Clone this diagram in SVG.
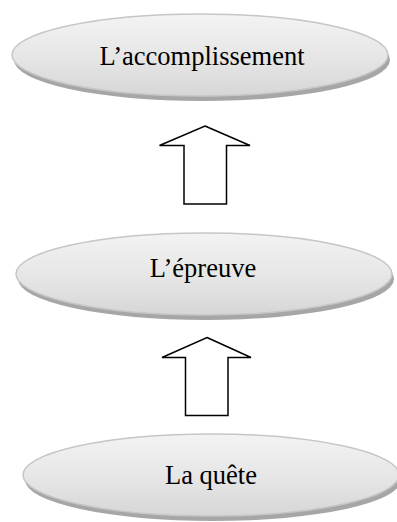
<svg xmlns="http://www.w3.org/2000/svg" width="397" height="522" viewBox="0 0 397 522">
  <defs>
    <linearGradient id="fillGrad" x1="0" y1="0" x2="0" y2="1">
      <stop offset="0" stop-color="#f3f3f3"/>
      <stop offset="0.6" stop-color="#e4e4e4"/>
      <stop offset="1" stop-color="#d6d6d6"/>
    </linearGradient>
    <filter id="blur" x="-10%" y="-20%" width="120%" height="140%">
      <feGaussianBlur stdDeviation="0.7"/>
    </filter>
  </defs>
  <style>
    .shadow { fill: #a6a6a6; filter: url(#blur); }
    .oval { fill: url(#fillGrad); stroke: #c6c6c6; stroke-width: 1.5; }
    .label { font-family: "Liberation Serif", "Times New Roman", serif; font-size: 26.5px; fill: #000; text-anchor: middle; }
    .arrow { fill: #fff; stroke: #000; stroke-width: 1.5; stroke-linejoin: miter; }
  </style>

  <g id="node-accomplissement">
    <ellipse class="shadow" cx="202" cy="60" rx="188" ry="41"/>
    <ellipse class="oval" cx="200" cy="55" rx="188" ry="41"/>
    <text class="label" x="202" y="65">L’accomplissement</text>
  </g>

  <g id="node-epreuve">
    <ellipse class="shadow" cx="206" cy="279" rx="188" ry="41"/>
    <ellipse class="oval" cx="204" cy="274" rx="188" ry="41"/>
    <text class="label" x="203" y="277">L’épreuve</text>
  </g>

  <g id="node-quete">
    <ellipse class="shadow" cx="213" cy="480" rx="188" ry="41"/>
    <ellipse class="oval" cx="211" cy="475" rx="188" ry="41"/>
    <text class="label" x="211" y="484">La quête</text>
  </g>

  <g id="connectors">
    <polygon class="arrow" points="205,126 250,145.5 226.5,145.5 226.5,204 184,204 184,145.5 159.5,145.5"/>
    <polygon class="arrow" points="207,337.5 251,357.5 228,357.5 228,415.5 185.5,415.5 185.5,357.5 162,357.5"/>
  </g>
</svg>
